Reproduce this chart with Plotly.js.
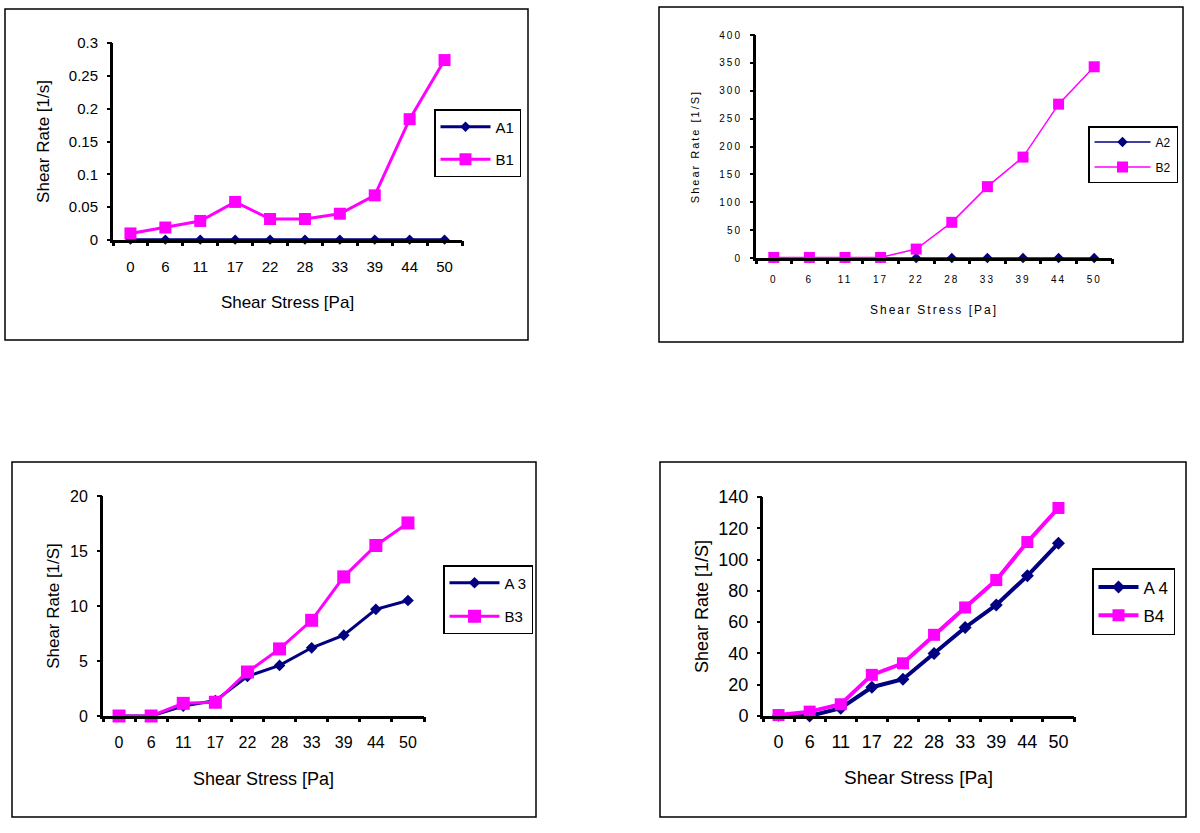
<!DOCTYPE html>
<html>
<head>
<meta charset="utf-8">
<script src="https://cdn.plot.ly/plotly-3.0.1.min.js"></script>
<style>
html,body{margin:0;padding:0;background:#fff;}
#chart{width:1200px;height:833px;}
.x2tick text,.y2tick text,.g-x2title text,.g-y2title text{letter-spacing:2px;}
</style>
</head>
<body>
<div id="chart"></div>
<script>
// ---- data ----
const categories = ['0','6','11','17','22','28','33','39','44','50'];
const A1 = [0.0005,0.0005,0.0005,0.0005,0.0005,0.0005,0.0005,0.0005,0.0005,0.0005];
const B1 = [0.010,0.019,0.029,0.058,0.032,0.032,0.040,0.068,0.184,0.274];
const A2 = [0,0,0,0,0,0,0,0,0,0];
const B2 = [1,1,1,1,16,64,128,181,276,343];
const A3 = [0,0,0.9,1.4,3.6,4.6,6.2,7.35,9.7,10.5];
const B3 = [0,0,1.15,1.25,4.0,6.1,8.7,12.65,15.5,17.55];
const A4 = [0.5,0,5,18.4,23.5,40,56.6,71,89.6,110.5];
const B4 = [0.6,2.8,7.5,26.3,33.7,51.9,69.4,86.9,111.2,133];
const seriesNames = [['A1','B1'],['A2','B2'],['A 3','B3'],['A 4','B4']];
const xTitle = 'Shear Stress [Pa]';
const yTitles = ['Shear Rate [1/s]','Shear Rate [1/S]','Shear Rate [1/S]','Shear Rate [1/S]'];

// ---- layout helpers ----
const W = 1200, H = 833;
const NAVY = '#000080', MAG = '#FF00FF';
const FONT = 'Liberation Sans, Arial, sans-serif';
const CLEAR = 'rgba(0,0,0,0)';
function dx(a,b){return [a/W,b/W];}
function dy(top,bottom){return [1-bottom/H,1-top/H];}
// category boundaries (for the short tick marks between categories)
const boundaries = categories.map((c,i)=>i-0.5).concat([categories.length-0.5]);

const panels = [
  {A:A1,B:B1,plot:[113,462,43,240],frame:[5,528,9,340],leg:[434,109],range:[0,0.3],dtick:0.05,
   tick:15,title:17,ytitle:17,lw:3,msA:8,msB:12,legFont:15,itemw:50,gap:10,
   xlen:11,ylen:9,xts:23,yts:15},
  {A:A2,B:B2,plot:[756,1112,35,258],frame:[659,1183,7,342],leg:[1088,126],range:[0,400],dtick:50,
   tick:10,title:12,ytitle:11,lw:1.5,msA:8,msB:11,legFont:12,itemw:56,gap:6,
   xlen:10,ylen:9,xts:22,yts:18},
  {A:A3,B:B3,plot:[103,424,496,716],frame:[12,536,462,817],leg:[443,565],range:[0,20],dtick:5,
   tick:16,title:18,ytitle:17,lw:3,msA:9,msB:13,legFont:15,itemw:50,gap:11,
   xlen:10,ylen:9,xts:23,yts:7},
  {A:A4,B:B4,plot:[763,1074,497,716],frame:[660,1186,462,817],leg:[1092,568],range:[0,140],dtick:20,
   tick:18,title:19,ytitle:18,lw:4,msA:10,msB:12,legFont:17,itemw:40,gap:3,
   xlen:7,ylen:8,xts:21,yts:6}
];

const data = [];
const layout = {
  width: W, height: H,
  margin: {l:0,r:0,t:0,b:0},
  paper_bgcolor: '#fff', plot_bgcolor: '#fff',
  showlegend: true,
  shapes: [],
  font: {family: FONT, color: '#000'}
};

panels.forEach((p,i)=>{
  const n = i+1;
  const xa = n===1 ? 'x' : 'x'+n;
  const ya = n===1 ? 'y' : 'y'+n;
  const tx = 'x'+(n+4), ty = 'y'+(n+4);
  const legId = n===1 ? 'legend' : 'legend'+n;
  data.push({
    x: categories, y: p.A, name: seriesNames[i][0], type:'scatter', mode:'lines+markers',
    xaxis: xa, yaxis: ya, legend: legId, legendgroup: 'a'+n, cliponaxis:false,
    line:{color:NAVY,width:p.lw}, marker:{symbol:'diamond',size:p.msA,color:NAVY}
  });
  data.push({
    x: categories, y: p.B, name: seriesNames[i][1], type:'scatter', mode:'lines+markers',
    xaxis: xa, yaxis: ya, legend: legId, legendgroup: 'b'+n, cliponaxis:false,
    line:{color:MAG,width:p.lw}, marker:{symbol:'square',size:p.msB,color:MAG}
  });
  // empty helper traces so that the overlaid tick-mark axes get drawn
  data.push({x:[], y:[], xaxis: tx, yaxis: ya, type:'scatter', mode:'markers', showlegend:false, hoverinfo:'skip'});
  data.push({x:[], y:[], xaxis: xa, yaxis: ty, type:'scatter', mode:'markers', showlegend:false, hoverinfo:'skip'});

  const xKey = n===1 ? 'xaxis' : 'xaxis'+n;
  const yKey = n===1 ? 'yaxis' : 'yaxis'+n;
  // main axes: line, labels, title (tick marks transparent to set label distance)
  layout[xKey] = {
    domain: dx(p.plot[0],p.plot[1]), anchor: ya, type:'category',
    range:[-0.5,9.5], showline:true, linecolor:'#000', linewidth:3,
    ticks:'outside', ticklen:p.xlen, tickcolor:CLEAR,
    showgrid:false, zeroline:false, fixedrange:true,
    tickfont:{size:p.tick, family:FONT, color:'#000'},
    title:{text:xTitle, standoff:p.xts, font:{size:p.title, family:FONT, color:'#000'}}
  };
  layout[yKey] = {
    domain: dy(p.plot[2],p.plot[3]), anchor: xa,
    range:p.range, dtick:p.dtick, tick0:0, showline:true, linecolor:'#000', linewidth:3,
    ticks:'outside', ticklen:p.ylen, tickcolor:CLEAR,
    showgrid:false, zeroline:false, fixedrange:true,
    tickfont:{size:p.tick, family:FONT, color:'#000'},
    title:{text:yTitles[i], standoff:p.yts, font:{size:p.ytitle, family:FONT, color:'#000'}}
  };
  // overlaid axes: short visible tick marks only
  layout['xaxis'+(n+4)] = {
    overlaying: xa, anchor: ya, side:'bottom',
    range:[-0.5,9.5], tickmode:'array', tickvals:boundaries,
    ticks:'outside', ticklen:5, tickwidth:3, tickcolor:'#000',
    showticklabels:false, showline:false, showgrid:false, zeroline:false, fixedrange:true
  };
  layout['yaxis'+(n+4)] = {
    overlaying: ya, anchor: xa, side:'left',
    range:p.range, dtick:p.dtick, tick0:0,
    ticks:'outside', ticklen:5, tickwidth:2, tickcolor:'#000',
    showticklabels:false, showline:false, showgrid:false, zeroline:false, fixedrange:true
  };
  layout[legId] = {
    x: p.leg[0]/W, y: 1-p.leg[1]/H, xanchor:'left', yanchor:'top',
    xref:'paper', yref:'paper',
    bgcolor:'#fff', bordercolor:'#000', borderwidth:1.5,
    font:{size:p.legFont, family:FONT, color:'#000'},
    itemwidth:p.itemw, tracegroupgap:p.gap, traceorder:'grouped'
  };
  layout.shapes.push({
    type:'rect', xref:'paper', yref:'paper',
    x0:p.frame[0]/W, x1:p.frame[1]/W, y0:1-p.frame[3]/H, y1:1-p.frame[2]/H,
    line:{color:'#000',width:1.5}, fillcolor:'rgba(0,0,0,0)', layer:'below'
  });
});

Plotly.newPlot('chart', data, layout, {staticPlot:true, displayModeBar:false});
</script>
</body>
</html>
